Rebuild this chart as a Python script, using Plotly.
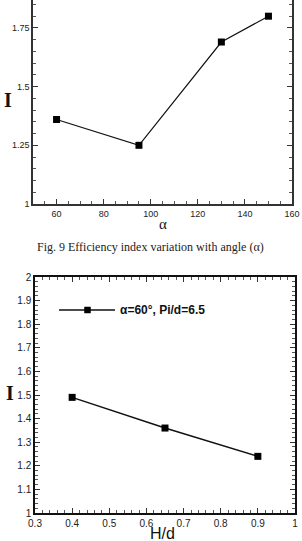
import plotly.graph_objects as go

# Chart 1 data: efficiency index vs angle
alpha = [60, 95, 130, 150]
I_alpha = [1.36, 1.25, 1.69, 1.80]

# Chart 2 data: efficiency index vs H/d
hd = [0.4, 0.65, 0.9]
I_hd = [1.49, 1.36, 1.24]
legend_name = "α=60°, Pi/d=6.5"

W, H = 302, 541

fig = go.Figure()
fig.add_trace(go.Scatter(x=alpha, y=I_alpha, mode="lines+markers", xaxis="x", yaxis="y",
                         line=dict(color="#111", width=1.2),
                         marker=dict(symbol="square", size=7, color="#000"),
                         showlegend=False))
fig.add_trace(go.Scatter(x=hd, y=I_hd, mode="lines+markers", xaxis="x2", yaxis="y2",
                         name=legend_name,
                         line=dict(color="#111", width=1.5),
                         marker=dict(symbol="square", size=7, color="#000"),
                         showlegend=False))

tickfont = dict(family="Liberation Sans, Arial", size=9, color="#222")

def ax(**kw):
    d = dict(showgrid=False, zeroline=False, showline=True, linecolor="#333", linewidth=1.5,
             ticks="inside", ticklen=5, tickcolor="#333", tickfont=tickfont, automargin=False,
             minor=dict(ticks="inside", ticklen=3, tickcolor="#555"))
    d.update(kw)
    return d

# custom legend key for chart 2 (in paper coordinates)
ly = 1 - 310 / H
shapes = [
    dict(type="line", xref="paper", yref="paper", x0=59/W, x1=115/W, y0=ly, y1=ly,
         line=dict(color="#111", width=1.5)),
    dict(type="rect", xref="paper", yref="paper", x0=84.5/W, x1=90.5/W, y0=ly-3/H, y1=ly+3/H,
         line=dict(color="#000", width=0.5), fillcolor="#000"),
]

fig.update_layout(
    width=W, height=H, margin=dict(l=0, r=0, t=0, b=0, autoexpand=False),
    paper_bgcolor="white", plot_bgcolor="white",
    xaxis=ax(domain=[33/W, 292/W], range=[50, 160], tickvals=[60, 80, 100, 120, 140, 160],
             minor=dict(ticks="inside", ticklen=3, tickcolor="#555", dtick=5), anchor="y", mirror=False),
    yaxis=ax(domain=[1-204/H, 1.0], range=[1, 1.869], tickvals=[1, 1.25, 1.5, 1.75],
             ticktext=["1", "1.25", "1.5", "1.75"],
             minor=dict(ticks="inside", ticklen=3, tickcolor="#555", dtick=0.05), anchor="x", mirror="ticks"),
    xaxis2=ax(domain=[35/W, 295/W], range=[0.3, 1.0], dtick=0.1, tickformat=".1~f",
              minor=dict(ticks="inside", ticklen=3, tickcolor="#555", dtick=0.02), anchor="y2", mirror="ticks",
              linecolor="#111", tickfont=dict(family="Liberation Sans, Arial", size=10, color="#222")),
    yaxis2=ax(domain=[1-513/H, 1-277/H], range=[1, 2], dtick=0.1, tickformat=".1~f",
              minor=dict(ticks="inside", ticklen=3, tickcolor="#555", dtick=0.02), anchor="x2", mirror="ticks",
              linecolor="#111", tickfont=dict(family="Liberation Sans, Arial", size=10, color="#222")),
    showlegend=False,
    shapes=shapes,
    annotations=[
        dict(text=legend_name, x=118/W, y=ly, xref="paper", yref="paper", showarrow=False,
             xanchor="left", yanchor="middle",
             font=dict(family="Liberation Sans, Arial", size=12, color="#111", weight="bold")),
        dict(text="I", x=2/W, y=1-87/H, xref="paper", yref="paper", showarrow=False, xanchor="left",
             font=dict(family="Liberation Serif, Times New Roman", size=20, color="#111", weight="bold")),
        dict(text="α", x=(33+292)/2/W, y=1-224/H, xref="paper", yref="paper", showarrow=False,
             font=dict(family="Liberation Serif, Times New Roman", size=15, color="#111")),
        dict(text="Fig. 9 Efficiency index variation with angle (α)", x=150/W, y=1-247/H,
             xref="paper", yref="paper", showarrow=False,
             font=dict(family="Liberation Serif, Times New Roman", size=12, color="#222")),
        dict(text="I", x=4/W, y=1-406/H, xref="paper", yref="paper", showarrow=False, xanchor="left",
             font=dict(family="Liberation Serif, Times New Roman", size=20, color="#111", weight="bold")),
        dict(text="H/d", x=162/W, y=1-524/H, xref="paper", yref="paper", showarrow=False,
             yanchor="top", borderpad=0,
             font=dict(family="Liberation Sans, Arial", size=16, color="#111")),
    ],
)

fig.write_html("out.html")
